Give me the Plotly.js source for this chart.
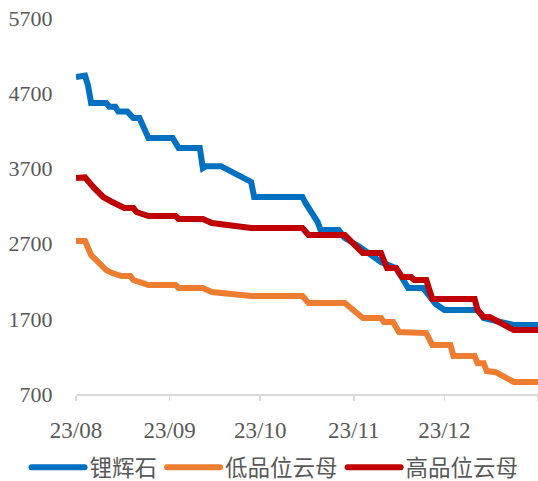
<!DOCTYPE html>
<html>
<head>
<meta charset="utf-8">
<script src="https://cdn.plot.ly/plotly-3.0.1.min.js"></script>
<style>html,body{margin:0;padding:0;background:#fff;}#chart{width:538px;height:481px;}</style>
</head>
<body>
<div id="chart"></div>
<script>
// 锂辉石
const spodDates = ["2023-08-01","2023-08-04","2023-08-05","2023-08-06","2023-08-11","2023-08-12","2023-08-14","2023-08-15","2023-08-18","2023-08-20","2023-08-22","2023-08-25","2023-09-02","2023-09-04","2023-09-11","2023-09-12","2023-09-13","2023-09-18","2023-09-28","2023-09-29","2023-10-15","2023-10-16","2023-10-20","2023-10-21","2023-10-27","2023-10-29","2023-11-03","2023-11-08","2023-11-10","2023-11-15","2023-11-19","2023-11-24","2023-11-28","2023-12-01","2023-12-12","2023-12-14","2023-12-24","2024-01-01"];
const spodValues = [4915,4935,4800,4570,4570,4520,4520,4455,4455,4370,4370,4105,4105,3970,3970,3705,3730,3730,3520,3320,3320,3240,2990,2880,2880,2775,2655,2520,2455,2375,2110,2110,1900,1816,1816,1710,1617,1617];

// 低品位云母
const lowDates = ["2023-08-01","2023-08-04","2023-08-06","2023-08-09","2023-08-11","2023-08-13","2023-08-16","2023-08-19","2023-08-20","2023-08-25","2023-09-03","2023-09-04","2023-09-12","2023-09-15","2023-09-23","2023-09-28","2023-10-15","2023-10-17","2023-10-29","2023-11-04","2023-11-10","2023-11-11","2023-11-14","2023-11-16","2023-11-25","2023-11-27","2023-12-03","2023-12-04","2023-12-11","2023-12-12","2023-12-14","2023-12-15","2023-12-18","2023-12-24","2024-01-01"];
const lowValues = [2734,2734,2548,2442,2348,2308,2269,2269,2216,2149,2149,2110,2110,2056,2016,2003,2003,1910,1910,1710,1710,1657,1657,1524,1510,1350,1350,1205,1205,1110,1110,1005,990,860,860];

// 高品位云母
const highDates = ["2023-08-01","2023-08-04","2023-08-07","2023-08-10","2023-08-13","2023-08-15","2023-08-17","2023-08-20","2023-08-21","2023-08-25","2023-09-03","2023-09-04","2023-09-12","2023-09-15","2023-09-23","2023-09-28","2023-10-15","2023-10-17","2023-10-29","2023-11-01","2023-11-04","2023-11-10","2023-11-12","2023-11-15","2023-11-17","2023-11-20","2023-11-21","2023-11-25","2023-11-27","2023-12-11","2023-12-12","2023-12-14","2023-12-16","2023-12-24","2024-01-01"];
const highValues = [3572,3580,3440,3320,3253,3213,3173,3173,3120,3066,3066,3027,3027,2973,2934,2907,2907,2814,2814,2680,2574,2574,2375,2375,2255,2255,2215,2215,1963,1963,1816,1723,1723,1550,1550];

const xTickVals = ["2023-08-01","2023-09-01","2023-10-01","2023-11-01","2023-12-01","2024-01-01"];
const xTickText = ["23/08","23/09","23/10","23/11","23/12",""];
const yTickVals = [700,1700,2700,3700,4700,5700];

const serif = "Liberation Serif, Noto Sans CJK SC, serif";

const traces = [
  {x: spodDates, y: spodValues, name: "锂辉石", type: "scatter", mode: "lines",
   line: {color: "#0070C0", width: 6}},
  {x: lowDates, y: lowValues, name: "低品位云母", type: "scatter", mode: "lines",
   line: {color: "#ED7D31", width: 6}},
  {x: highDates, y: highValues, name: "高品位云母", type: "scatter", mode: "lines",
   line: {color: "#C00000", width: 6}}
];

const layout = {
  width: 538, height: 481,
  margin: {l: 76, r: 0, t: 18, b: 87, autoexpand: false},
  paper_bgcolor: "#fff", plot_bgcolor: "#fff",
  showlegend: true,
  legend: {orientation: "h", x: -0.107, xanchor: "left", y: -0.196, yanchor: "middle",
           font: {family: serif, size: 22.5, color: "#595959"}, itemwidth: 53, tracegroupgap: 0},
  xaxis: {type: "date", range: ["2023-08-01", "2024-01-01"],
          tickvals: xTickVals, ticktext: xTickText,
          showgrid: false, zeroline: false,
          showline: true, linecolor: "#D9D9D9", linewidth: 1.5,
          ticks: "outside", ticklen: 5, tickcolor: "#D9D9D9", tickwidth: 1.5,
          ticklabelstandoff: 10,
          tickfont: {family: serif, size: 23, color: "#595959"}},
  yaxis: {range: [700, 5700], tickvals: yTickVals,
          showgrid: false, zeroline: false, showline: false,
          ticks: "outside", ticklen: 18, tickcolor: "rgba(0,0,0,0)",
          tickfont: {family: serif, size: 22, color: "#595959"}}
};

Plotly.newPlot("chart", traces, layout, {displayModeBar: false, staticPlot: true}).then(function(gd){
  gd.querySelectorAll(".legend .legendlines path").forEach(function(p){
    p.setAttribute("d", "M5,0h53");
    p.style.strokeLinecap = "round";
  });
});
</script>
</body>
</html>
